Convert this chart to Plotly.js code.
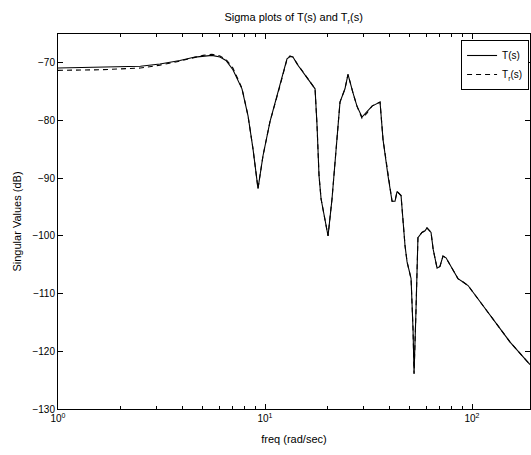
<!DOCTYPE html>
<html>
<head>
<meta charset="utf-8">
<script src="https://cdn.plot.ly/plotly-3.0.1.min.js"></script>
<style>html,body{margin:0;padding:0;background:#fff;overflow:hidden}#chart{width:531px;height:455px}</style>
</head>
<body>
<div id="chart"></div>
<script>
// frequencies (rad/sec)
const freq = [1, 1.6, 2.5, 3.11, 3.88, 4.59, 5.02, 5.54, 6.06, 6.48, 7.0, 7.74, 8.28, 8.75, 9.25, 9.78, 10.57, 11.81, 12.77, 13.2, 13.65, 14.28, 15.27, 16.14, 17.45, 17.84, 18.24, 18.66, 19.07, 20.16, 21.07, 21.79, 23.03, 24.34, 25.17, 26.61, 27.81, 29.41, 31.1, 32.88, 35.95, 37.17, 39.29, 41.09, 42.47, 43.43, 45.41, 47.47, 48.56, 50.77, 51.88, 52.48, 53.6, 54.8, 57.3, 59.3, 60.6, 63.4, 64.9, 67.8, 70.0, 72.4, 74.9, 80.0, 85.5, 90.5, 95.7, 103.3, 122.2, 152.7, 190.6];
// sigma of T(s) in dB
const sigmaT = [-70.9, -70.8, -70.6, -70.2, -69.6, -69.0, -68.8, -68.7, -69.0, -69.6, -71.2, -74.5, -79.2, -84.9, -91.8, -86.1, -80.2, -74.0, -69.3, -68.9, -69.0, -70.2, -71.6, -72.8, -74.5, -80.9, -89.6, -93.6, -95.3, -100.0, -93.6, -86.8, -76.8, -74.5, -72.0, -75.2, -77.5, -79.4, -78.5, -77.5, -76.8, -83.3, -89.6, -94.0, -94.0, -92.3, -93.0, -101.7, -104.5, -107.4, -116.1, -123.9, -113.2, -100.3, -99.4, -99.1, -98.6, -99.4, -102.3, -105.6, -105.3, -103.5, -103.8, -105.7, -107.4, -108.0, -108.6, -110.2, -113.8, -118.4, -122.3];
// sigma of Tr(s) in dB
const sigmaTr = [-71.3, -71.2, -70.9, -70.4, -69.7, -69.0, -68.7, -68.5, -68.8, -69.4, -70.9, -74.4, -79.2, -84.9, -91.8, -86.1, -80.2, -74.0, -69.4, -68.8, -69.0, -70.1, -71.6, -72.8, -74.5, -80.9, -89.6, -93.6, -95.3, -100.0, -93.6, -86.8, -76.8, -74.5, -72.0, -75.2, -77.5, -79.6, -78.7, -77.5, -76.8, -83.3, -89.6, -94.0, -94.0, -92.3, -93.0, -101.7, -104.5, -107.4, -116.1, -123.9, -113.2, -100.3, -99.4, -99.1, -98.6, -99.4, -102.3, -105.6, -105.3, -103.5, -103.8, -105.7, -107.4, -108.0, -108.6, -110.2, -113.8, -118.4, -122.3];
const xTickVals = [1, 10, 100];
const xTickText = ['10<sup>0</sup>', '10<sup>1</sup>', '10<sup>2</sup>'];
const xMinorVals = [2,3,4,5,6,7,8,9,20,30,40,50,60,70,80,90,200];
const yTickVals = [-130, -120, -110, -100, -90, -80, -70];

const font = {family: 'Liberation Sans, Arial, sans-serif', size: 10, color: '#000'};
const traces = [
  {x: freq, y: sigmaT, type: 'scatter', mode: 'lines', name: 'T(s)',
   line: {color: '#000', width: 1.1}},
  {x: freq, y: sigmaTr, type: 'scatter', mode: 'lines', name: 'T<sub>r</sub>(s)',
   line: {color: '#000', width: 1.1, dash: '5px,4px'}}
];
const layout = {
  width: 531, height: 455,
  margin: {l: 58, r: 1, t: 34, b: 46},
  paper_bgcolor: '#fff', plot_bgcolor: '#fff',
  font: font,
  title: {text: 'Sigma plots of T(s) and T<sub>r</sub>(s)', font: {family: font.family, size: 11, color: '#000'},
          x: 0.553, xanchor: 'center', y: 0.97, yanchor: 'top'},
  showlegend: true,
  legend: {x: 0.998, xanchor: 'right', y: 0.984, yanchor: 'top', bgcolor: '#fff',
           bordercolor: '#000', borderwidth: 1, font: {family: font.family, size: 10, color: '#000'},
           tracegroupgap: 0, itemwidth: 30},
  xaxis: {type: 'log', range: [0, Math.log10(190.6)], tickvals: xTickVals, ticktext: xTickText,
          ticks: 'inside', ticklen: 5, tickcolor: '#000', showline: true, linecolor: '#000', linewidth: 1,
          mirror: 'allticks', showgrid: false, zeroline: false,
          minor: {tickvals: xMinorVals, ticks: 'inside', ticklen: 3, tickcolor: '#000', showgrid: false},
          title: {text: 'freq (rad/sec)', font: {family: font.family, size: 11, color: '#000'}, standoff: 12},
          tickfont: {family: font.family, size: 10, color: '#000'}},
  yaxis: {range: [-130, -65], tickvals: yTickVals, ticks: 'inside', ticklen: 5, tickcolor: '#000',
          showline: true, linecolor: '#000', linewidth: 1, mirror: 'allticks', showgrid: false, zeroline: false,
          title: {text: 'Singular Values (dB)', font: {family: font.family, size: 11, color: '#000'}, standoff: 8},
          tickfont: {family: font.family, size: 10, color: '#000'}}
};
Plotly.newPlot('chart', traces, layout, {displayModeBar: false, staticPlot: true});
</script>
</body>
</html>
